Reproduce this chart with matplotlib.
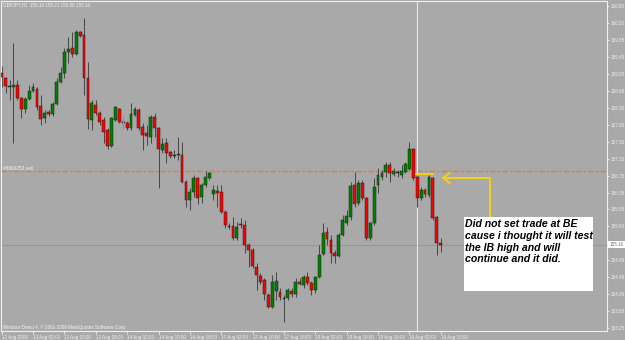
import matplotlib
matplotlib.use("Agg")
import matplotlib.pyplot as plt
from matplotlib.patches import Rectangle
from matplotlib.transforms import blended_transform_factory
import numpy as np

# ---------------- data (GBPJPY H1) ----------------
opens = [159.07, 158.95, 158.75, 158.75, 158.79, 158.50, 158.25, 158.47, 158.66, 158.70,
         158.32, 158.04, 158.18, 158.13, 158.36, 158.86, 159.07, 159.55, 159.64, 159.50,
         160.00, 159.93, 158.95, 158.00, 158.34, 158.16, 158.00, 157.77, 157.40, 158.00,
         158.25, 157.95, 157.93, 157.81, 158.11, 158.22, 157.84, 157.70, 157.61, 158.07,
         157.81, 157.31, 157.47, 157.27, 157.20, 157.20, 157.20, 156.58, 156.17, 156.36,
         156.68, 156.24, 156.52, 156.68, 156.31, 156.38, 156.36, 155.90, 155.58, 155.58,
         155.31, 155.63, 155.60, 155.15, 155.04, 154.65, 154.44, 154.35, 154.01, 153.74,
         154.10, 154.08, 153.94, 153.94, 154.10, 154.03, 154.31, 154.24, 154.42, 154.28,
         154.12, 154.42, 154.95, 155.45, 155.26, 154.97, 154.90, 155.38, 155.65, 155.79,
         156.52, 156.11, 156.56, 156.22, 155.31, 155.65, 156.52, 156.70, 156.81, 156.97,
         156.77, 156.79, 156.74, 156.81, 156.88, 157.34, 156.70, 156.22, 156.40, 156.29,
         156.68, 155.79, 155.19]
highs = [159.23, 158.98, 158.91, 159.75, 158.91, 158.52, 158.52, 158.79, 158.84, 158.75,
         158.57, 158.22, 158.22, 158.41, 158.95, 159.20, 159.64, 159.89, 160.00, 160.05,
         160.02, 160.32, 159.32, 158.45, 158.45, 158.20, 158.07, 157.81, 158.07, 158.32,
         158.27, 158.04, 157.97, 158.38, 158.29, 158.27, 157.93, 157.88, 158.11, 158.16,
         157.84, 157.59, 157.59, 157.29, 157.31, 157.61, 157.50, 156.63, 156.45, 156.74,
         156.70, 156.56, 156.83, 156.81, 156.52, 156.52, 156.52, 155.95, 155.65, 155.79,
         155.67, 155.76, 155.72, 155.19, 155.08, 154.74, 154.51, 154.40, 154.06, 154.47,
         154.53, 154.17, 154.01, 154.17, 154.17, 154.40, 154.40, 154.47, 154.53, 154.33,
         154.44, 155.15, 155.65, 155.56, 155.38, 155.04, 155.42, 155.83, 155.95, 156.58,
         156.81, 156.63, 156.63, 156.24, 155.67, 156.68, 156.90, 156.86, 157.04, 157.04,
         156.90, 156.86, 156.97, 157.04, 157.50, 157.36, 156.74, 156.47, 156.45, 156.74,
         156.70, 155.81, 155.31]
lows = [158.75, 158.61, 158.45, 157.47, 158.45, 158.04, 158.16, 158.45, 158.63, 158.22,
        157.88, 157.93, 158.09, 158.09, 158.34, 158.84, 158.95, 159.29, 159.43, 159.48,
        159.89, 158.57, 157.79, 157.77, 158.11, 157.88, 157.47, 157.34, 157.38, 157.97,
        157.93, 157.81, 157.77, 157.77, 158.09, 157.77, 157.31, 157.43, 157.47, 157.61,
        156.45, 157.25, 157.02, 157.13, 157.13, 157.09, 156.56, 156.01, 155.95, 156.24,
        156.08, 156.11, 156.47, 156.63, 156.17, 156.01, 155.88, 155.54, 155.51, 155.26,
        155.26, 155.54, 154.97, 154.65, 154.63, 154.12, 154.26, 153.90, 153.71, 153.71,
        153.90, 153.90, 153.40, 153.90, 153.96, 153.96, 154.24, 154.17, 154.24, 154.01,
        154.06, 154.40, 154.92, 155.15, 154.74, 154.74, 154.88, 155.35, 155.60, 155.72,
        156.01, 156.06, 156.17, 155.26, 155.26, 155.60, 156.33, 156.63, 156.70, 156.58,
        156.72, 156.70, 156.68, 156.79, 156.86, 156.63, 156.01, 156.17, 156.24, 156.24,
        155.72, 154.92, 155.00]
closes = [158.98, 158.77, 158.77, 158.79, 158.50, 158.25, 158.47, 158.66, 158.75, 158.29,
          158.02, 158.16, 158.13, 158.36, 158.86, 159.07, 159.55, 159.61, 159.50, 160.00,
          159.91, 158.95, 158.02, 158.38, 158.16, 157.95, 157.72, 157.40, 158.04, 158.29,
          157.95, 157.93, 157.81, 158.13, 158.25, 157.81, 157.65, 157.63, 158.07, 157.81,
          157.34, 157.45, 157.25, 157.18, 157.18, 157.19, 156.58, 156.17, 156.36, 156.68,
          156.22, 156.52, 156.70, 156.79, 156.40, 156.33, 155.90, 155.60, 155.56, 155.31,
          155.56, 155.60, 155.15, 155.04, 154.67, 154.47, 154.31, 154.03, 153.74, 154.31,
          154.33, 153.96, 153.92, 154.12, 154.03, 154.31, 154.26, 154.42, 154.28, 154.12,
          154.42, 154.92, 155.42, 155.29, 154.97, 154.90, 155.38, 155.72, 155.81, 156.49,
          156.08, 156.56, 156.22, 155.31, 155.65, 156.47, 156.74, 156.79, 156.97, 156.79,
          156.83, 156.78, 156.83, 157.00, 157.34, 156.68, 156.22, 156.40, 156.31, 156.70,
          155.76, 155.19, 155.16]

date_labels = ["12 Aug 2009", "13 Aug 02:00", "13 Aug 10:00", "13 Aug 18:00",
               "14 Aug 02:00", "14 Aug 10:00", "14 Aug 18:00", "17 Aug 02:00",
               "17 Aug 10:00", "17 Aug 18:00", "18 Aug 02:00", "18 Aug 10:00",
               "18 Aug 18:00", "19 Aug 02:00", "19 Aug 10:00"]
date_label_bars = [0, 8, 16, 24, 32, 40, 48, 56, 64, 72, 80, 88, 96, 104, 112]

price_labels = ["153.25", "153.65", "154.05", "154.45", "154.85", "155.20", "155.60",
                "155.95", "156.35", "156.75", "157.15", "157.50", "157.90", "158.30",
                "158.65", "159.05", "159.45", "159.85", "160.20", "160.60"]
price_label_low, price_label_high = 153.25, 160.60

header_text = "GBPJPY,H1  155.19 155.21 155.06 155.16"
footer_text = "Windsor Direct 4, \u00a9 2001-2009 MetaQuotes Software Corp."
order_text = "#8663253 sell"
sell_level = 156.83
bid_level = 155.16
bid_text = "155.16"
ib_high = 156.77
vline_bar = 106
note_lines = ["Did not set trade at BE", "cause i thought it will test",
              "the IB high and will", "continue and it did."]

# ---------------- style ----------------
BG = "#a9a9a9"
UP = "#008000"
DOWN = "#ff0000"
WICK = "#4a4a4a"
FG = "#f4f4f4"
YELLOW = "#ffd800"
ORANGE = "#f07818"
LABEL_FONT = "Liberation Sans"

W, H = 625, 340
fig = plt.figure(figsize=(W / 100, H / 100), dpi=100, facecolor=BG)
ax = fig.add_axes([1 / W, 9 / H, 606 / W, 330 / H], facecolor=BG)

# pixel mapping: bar i at px 1.7 + 3.92*i ; price = 160.73 - 0.02278*ypx
ax.set_xlim((1 - 1.7) / 3.92, (607 - 1.7) / 3.92)
ax.set_ylim(160.73 - 0.02278 * 331, 160.73 - 0.02278 * 1)

o = np.array(opens); h = np.array(highs); l = np.array(lows); c = np.array(closes)
x = np.arange(len(o))

# reference lines
ax.axhline(bid_level, color="#8898b0", lw=0.75, zorder=1)
ax.axhline(sell_level, color=ORANGE, lw=1.0, ls=(0, (4, 1.6, 1.6, 1.6)), zorder=1)
ax.axvline(vline_bar, color="#e8e8e8", lw=0.8, zorder=1)

# candles
ax.vlines(x, l, h, color=WICK, lw=0.75, zorder=2)
bottom = np.minimum(o, c)
height = np.maximum(np.abs(c - o), 0.022)
doji = np.abs(c - o) < 0.025
up = (c > o) & ~doji
dn = (c < o) & ~doji
bw = 0.72
ax.bar(x[up], height[up], width=bw, bottom=bottom[up], color=UP,
       edgecolor="#1e1e1e", lw=0.35, zorder=3)
ax.bar(x[dn], height[dn], width=bw, bottom=bottom[dn], color=DOWN,
       edgecolor="#1e1e1e", lw=0.35, zorder=3)
ax.bar(x[doji], height[doji], width=bw, bottom=bottom[doji], color="#2a2a2a",
       edgecolor="#2a2a2a", lw=0.35, zorder=3)

# order marker (magenta cross)
ax.plot([31, 31], [157.81, 158.07], color="#ff40ff", lw=0.8, zorder=4)
ax.plot([30.6, 31.4], [157.93, 157.93], color="#ff40ff", lw=0.8, zorder=4)

# yellow annotation: IB high line + arrow
ax.plot([105.7, 110.0], [ib_high, ib_high], color=YELLOW, lw=1.2, zorder=5)
ax.plot([124.6, 124.6, 112.6], [155.79, 156.68, 156.68], color=YELLOW, lw=1.2, zorder=5)
ax.plot([114.3, 112.6, 114.3], [156.79, 156.68, 156.56], color=YELLOW, lw=1.2, zorder=5)

# note box
ax.add_patch(Rectangle((118.0, 154.09), 32.9, 1.70, facecolor="white",
                       edgecolor="none", zorder=5))
for txt, yb in zip(note_lines, [155.548, 155.286, 155.019, 154.755]):
    ax.text(118.25, yb, txt, fontsize=7.6, fontweight="bold", fontstyle="italic",
            family=LABEL_FONT, color="black", va="baseline", ha="left", zorder=6)

# small texts
ax.text(2 / 606, 1 - 4 / 330, header_text, transform=ax.transAxes, fontsize=3.3,
        family=LABEL_FONT, color=FG, va="center", ha="left")
ax.text(2 / 606, 4 / 330, footer_text, transform=ax.transAxes, fontsize=3.3,
        family=LABEL_FONT, color=FG, va="center", ha="left")
ax.text(0.3, 156.90, order_text, fontsize=3.4, family=LABEL_FONT, color=FG,
        va="center", ha="left")

# axes styling
for s in ax.spines.values():
    s.set_color("#f0f0f0")
    s.set_linewidth(0.8)

yt = np.linspace(price_label_low, price_label_high, len(price_labels))
ax.set_yticks(yt)
ax.set_yticklabels(price_labels)
ax.yaxis.tick_right()
ax.tick_params(axis="y", right=True, left=False, labelright=True, labelleft=False,
               length=1.6, width=0.6, colors="#f0f0f0", labelsize=3.3, pad=1.2)
for t in ax.get_yticklabels():
    t.set_family(LABEL_FONT)

ax.set_xticks(date_label_bars)
ax.set_xticklabels(date_labels, ha="left")
ax.tick_params(axis="x", bottom=True, length=2.2, width=0.6, colors="#f0f0f0",
               labelsize=3.3, pad=0.4)
for t in ax.get_xticklabels():
    t.set_family(LABEL_FONT)

# current price highlight on axis
tr = blended_transform_factory(ax.transAxes, ax.transData)
ax.text(1.004, bid_level, bid_text, transform=tr, fontsize=3.3, family=LABEL_FONT,
        color="#707070", va="center", ha="left", clip_on=False, zorder=10,
        bbox=dict(boxstyle="square,pad=0.25", facecolor="white", edgecolor="none"))

fig.savefig("out.png", dpi=100, facecolor=BG)
